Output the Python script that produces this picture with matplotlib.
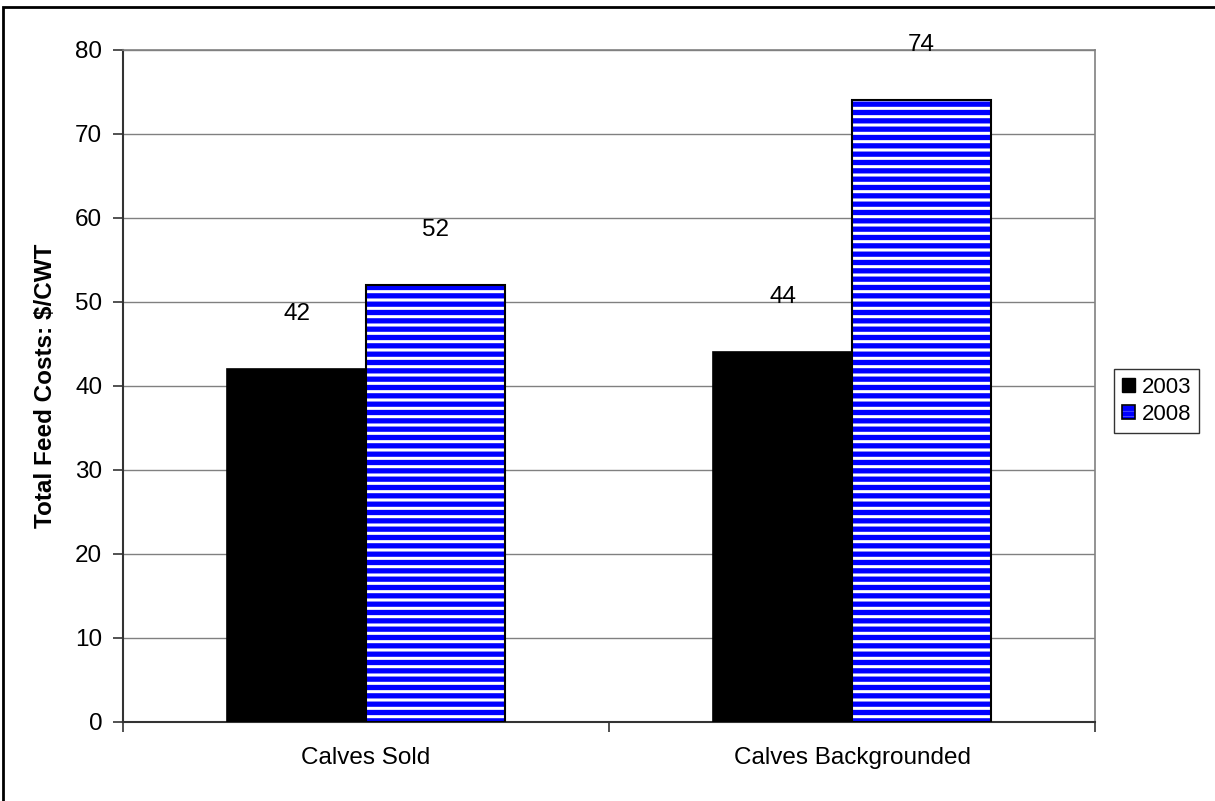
import matplotlib
matplotlib.use("Agg")
import matplotlib.pyplot as plt
from matplotlib.patches import Rectangle, Patch
from matplotlib.legend_handler import HandlerTuple
import numpy as np

plt.rcParams['font.family'] = ['Liberation Sans', 'DejaVu Sans']
plt.rcParams['hatch.linewidth'] = 3.8

categories = ["Calves Sold", "Calves Backgrounded"]
series_names = ["2003", "2008"]
values_2003 = [42, 44]
values_2008 = [52, 74]
yticks = [0, 10, 20, 30, 40, 50, 60, 70, 80]

FS = 17.5
W, H = 1215, 801
fig = plt.figure(figsize=(W / 100, H / 100), dpi=100)
ax = fig.add_axes([123 / W, 1 - 722 / H, (1095 - 123) / W, (722 - 50) / H])

x = np.arange(len(categories))
bw = 0.286

ax.bar(x - bw / 2, values_2003, bw, color='black', edgecolor='black', linewidth=1.2, zorder=3)
# hatched bars: blue horizontal stripes on white
ax.bar(x + bw / 2, values_2008, bw, color='white', edgecolor='#0000ff', hatch='--', linewidth=0, zorder=3)
ax.bar(x + bw / 2, values_2008, bw, color='none', edgecolor='black', linewidth=1.5, zorder=4)

for xi, v in zip(x - bw / 2, values_2003):
    ax.text(xi, v + 6.6, str(v), ha='center', va='center', fontsize=FS)
for xi, v in zip(x + bw / 2, values_2008):
    ax.text(xi, v + 6.6, str(v), ha='center', va='center', fontsize=FS)

ax.set_xlim(-0.5, len(categories) - 0.5)
ax.set_ylim(0, 80)
ax.set_yticks(yticks)
ax.set_yticklabels([str(t) for t in yticks], fontsize=FS)
ax.yaxis.grid(True, color='#808080', linewidth=1.0, zorder=0)
ax.set_axisbelow(True)

ax.set_xticks([-0.5, 0.5, 1.5])
ax.set_xticklabels([])
ax.set_xticks(x, minor=True)
ax.set_xticklabels(categories, minor=True, fontsize=FS)
ax.tick_params(axis='x', which='minor', length=0, pad=18)
ax.tick_params(axis='x', which='major', length=7, width=1.2, color='#333333', direction='out')
ax.tick_params(axis='y', length=7, width=1.2, color='#333333', direction='out', pad=8)

for s in ['left', 'bottom']:
    ax.spines[s].set_color('#333333')
    ax.spines[s].set_linewidth(1.5)
for s in ['top', 'right']:
    ax.spines[s].set_color('#808080')
    ax.spines[s].set_linewidth(1.2)

ax.set_ylabel("Total Feed Costs: $/CWT", fontsize=FS, fontweight='bold', labelpad=13)

h2003 = Patch(facecolor='black', edgecolor='black')
h2008 = (Patch(facecolor='white', edgecolor='#0000ff', hatch='---', linewidth=0),
         Patch(facecolor='none', edgecolor='black', linewidth=1.2))
leg = fig.legend([h2003, h2008], series_names, loc='center left', bbox_to_anchor=(1114 / W, 1 - 401 / H),
                 fontsize=16, frameon=True, fancybox=False, edgecolor='black',
                 handlelength=0.6, handleheight=0.6, handletextpad=0.3, borderpad=0.35,
                 labelspacing=0.25, borderaxespad=0,
                 handler_map={tuple: HandlerTuple(ndivide=1, pad=0)})
leg.get_frame().set_linewidth(1.0)

# outer frame of the figure
fig.patches.append(Rectangle((3 / W, -0.1), 1.2, 1 - 7 / H + 0.1, transform=fig.transFigure,
                             fill=False, edgecolor='black', linewidth=2.0))

fig.savefig("out.png", dpi=100)
